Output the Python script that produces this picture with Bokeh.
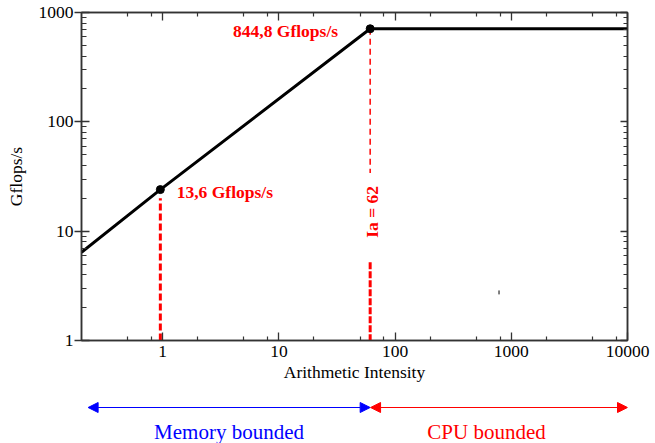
from bokeh.plotting import figure
from bokeh.models import Range1d, FixedTicker, LogAxis, PrintfTickFormatter, Arrow, NormalHead
from bokeh.layouts import column
from bokeh.embed import file_html
from bokeh.resources import INLINE
from bokeh.core.properties import value

# ---------------- data ----------------
x_limits = (0.2, 10000)
y_limits = (1, 1000)
roof_x = [0.2, 0.954, 61, 10000]
roof_y = [6.4, 24, 710, 710]
knee_x = [0.954, 61]
knee_y = [24, 710]
x_major = [1, 10, 100, 1000, 10000]
x_minor = [0.5, 0.8, 2, 5, 8, 20, 50, 80, 200, 500, 800, 2000, 5000, 8000]
y_major = [1, 10, 100, 1000]
y_minor = [2, 3, 4, 5, 6, 7, 8, 9, 20, 30, 40, 50, 60, 70, 80, 90,
           200, 300, 400, 500, 600, 700, 800, 900]
peak_text = "844,8 Gflops/s"
mem_text = "13,6 Gflops/s"
ia_text = "Ia = 62"
mem_bound_text = "Memory bounded"
cpu_bound_text = "CPU bounded"
x_title = "Arithmetic Intensity"
y_title = "Gflops/s"

FONT = "Liberation Serif"
AX = "#333333"
RED = "#ff0000"
BLUE = "#0000ff"

p = figure(width=655, height=386, x_axis_type="log", y_axis_type="log",
           x_range=Range1d(*x_limits), y_range=Range1d(*y_limits),
           output_backend="svg", toolbar_location=None,
           min_border_left=81, min_border_right=28, min_border_top=12, min_border_bottom=46)
p.grid.visible = False
p.outline_line_color = AX
p.outline_line_width = 1.5


def style(ax, ticks, minors, show_labels, tin, tout, mtin):
    ax.ticker = FixedTicker(ticks=ticks, minor_ticks=minors)
    ax.axis_line_color = AX
    ax.axis_line_width = 1.5
    ax.major_tick_line_color = AX
    ax.minor_tick_line_color = AX
    ax.major_tick_line_width = 1.3
    ax.minor_tick_line_width = 1.2
    ax.major_tick_in = tin
    ax.major_tick_out = tout
    ax.minor_tick_in = mtin
    ax.minor_tick_out = 0
    ax.axis_label_text_font = FONT
    ax.axis_label_text_font_style = "normal"
    ax.axis_label_text_font_size = "17.5px"
    ax.axis_label_text_color = "black"
    ax.major_label_text_font = FONT
    ax.major_label_text_color = "black"
    ax.formatter = PrintfTickFormatter(format="%d")
    if show_labels:
        ax.major_label_text_font_size = "17.5px"
    else:
        ax.major_label_text_font_size = "1px"
        ax.major_label_text_alpha = 0
        ax.major_label_standoff = 0


style(p.xaxis[0], x_major, x_minor, True, 8, 0, 4)
p.xaxis[0].axis_label = x_title
p.xaxis[0].major_label_standoff = 5
p.xaxis[0].axis_label_standoff = 2
style(p.yaxis[0], y_major, y_minor, True, 8, 7, 5)
p.yaxis[0].axis_label = y_title
p.yaxis[0].major_label_standoff = 1
p.yaxis[0].axis_label_standoff = 10

top_ax = LogAxis()
style(top_ax, x_major, x_minor, False, 8, 0, 4)
p.add_layout(top_ax, "above")
right_ax = LogAxis()
style(right_ax, y_major, y_minor, False, 7, 0, 4)
p.add_layout(right_ax, "right")

# red guide lines
p.line([knee_x[0], knee_x[0]], [y_limits[0], 20], line_color=RED, line_width=3, line_dash="7 3")
p.line([knee_x[1], knee_x[1]], [knee_y[1], 34], line_color=RED, line_width=1.5, line_dash="6 4")
p.line([knee_x[1], knee_x[1]], [5.2, y_limits[0]], line_color=RED, line_width=3, line_dash="7 2")

# roofline
p.line(roof_x, roof_y, line_color="black", line_width=3)
p.scatter(knee_x, knee_y, size=8, color="black")

# small stray mark
p.line([784, 784], [2.64, 2.87], line_color="black", line_width=1)

# labels
p.text(x=[32.3], y=[680], text=[peak_text], text_font=value(FONT), text_font_size="17.5px",
       text_font_style="bold", text_color=RED, text_align="right", text_baseline="middle")
p.text(x=[1.32], y=[22.7], text=[mem_text], text_font=value(FONT), text_font_size="17.5px",
       text_font_style="bold", text_color=RED, text_align="left", text_baseline="middle")
p.text(x=[63.3], y=[15.0], text=[ia_text], text_font=value(FONT), text_font_size="17.5px",
       text_font_style="bold", text_color=RED, text_align="center", text_baseline="middle",
       angle=1.5708)

# bottom strip with arrows
p2 = figure(width=655, height=57, x_axis_type="log", x_range=p.x_range, y_range=Range1d(0, 57),
            output_backend="svg", toolbar_location=None,
            x_axis_location=None, y_axis_location=None,
            min_border_left=81, min_border_right=28, min_border_top=0, min_border_bottom=0)
p2.grid.visible = False
p2.outline_line_color = None


def head(c):
    return NormalHead(size=10, fill_color=c, line_color=c)


p2.add_layout(Arrow(x_start=0.228, y_start=36, x_end=61, y_end=36, start=head(BLUE), end=head(BLUE),
                    line_color=BLUE, line_width=1.2))
p2.add_layout(Arrow(x_start=61.5, y_start=36, x_end=10000, y_end=36, start=head(RED), end=head(RED),
                    line_color=RED, line_width=1.2))
p2.text(x=[3.72], y=[11.5], text=[mem_bound_text], text_font=value(FONT), text_font_size="21px",
        text_color=BLUE, text_align="center", text_baseline="middle")
p2.text(x=[612], y=[11.5], text=[cpu_bound_text], text_font=value(FONT), text_font_size="21px",
        text_color=RED, text_align="center", text_baseline="middle")

layout = column(p, p2, spacing=0)
open("out.html", "w").write(file_html(layout, INLINE))
